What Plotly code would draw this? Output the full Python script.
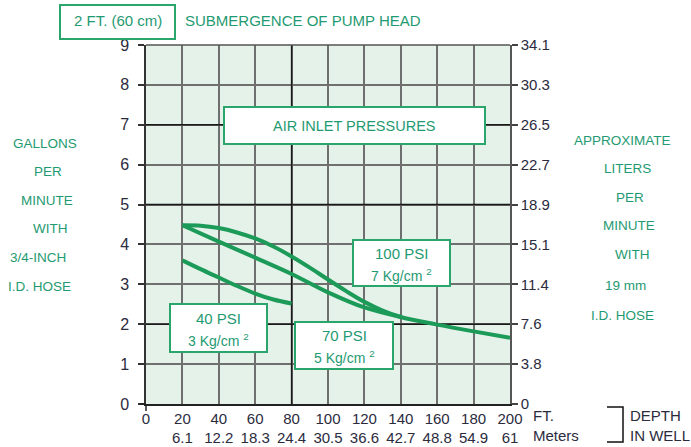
import plotly.graph_objects as go

# ---------------- data ----------------
depth_ft = [0, 20, 40, 60, 80, 100, 120, 140, 160, 180, 200]
depth_m = ["", "6.1", "12.2", "18.3", "24.4", "30.5", "36.6", "42.7", "48.8", "54.9", "61"]
gpm_ticks = [0, 1, 2, 3, 4, 5, 6, 7, 8, 9]
lpm_labels = ["0", "3.8", "7.6", "11.4", "15.1", "18.9", "22.7", "26.5", "30.3", "34.1"]

psi100_x = [20, 30, 40, 50, 60, 70, 80, 90, 100, 110, 120, 130, 140, 160, 180, 200]
psi100_y = [4.48, 4.47, 4.41, 4.30, 4.15, 3.95, 3.70, 3.42, 3.12, 2.83, 2.56, 2.34, 2.18, 1.99, 1.82, 1.66]

psi70_x = [20, 40, 60, 80, 100, 120, 140]
psi70_y = [4.48, 4.07, 3.67, 3.26, 2.80, 2.42, 2.18]

psi40_x = [20, 30, 40, 50, 60, 70, 80]
psi40_y = [3.60, 3.38, 3.17, 2.96, 2.77, 2.62, 2.52]

GREEN_LINE = "#1b9a58"
GREEN_TXT = "#1f9a72"
GREEN_BOX = "#2aa56c"
NUM = "#2b2b3e"
FONT = "Liberation Sans, Arial"

# plot area in pixels
W, H = 691, 447
L, R, T, B = 146, 510, 45, 404


def px(x):
    return (x - L) / (R - L)


def py(y):
    return (B - y) / (B - T)


fig = go.Figure()
for xs, ys in [(psi100_x, psi100_y), (psi70_x, psi70_y), (psi40_x, psi40_y)]:
    fig.add_trace(go.Scatter(x=xs, y=ys, mode="lines",
                             line=dict(color=GREEN_LINE, width=4, shape="spline", smoothing=1.0),
                             hoverinfo="skip", showlegend=False))
# invisible trace for right axis
fig.add_trace(go.Scatter(x=[0], y=[0], yaxis="y2", mode="markers",
                         marker=dict(opacity=0), showlegend=False, hoverinfo="skip"))

shapes = []
# darker grid lines
for xv in [80]:
    shapes.append(dict(type="line", xref="x", yref="y", x0=xv, x1=xv, y0=0, y1=9,
                       line=dict(color="#1a1a1a", width=1.5), layer="between"))
for yv in [2, 5, 7]:
    shapes.append(dict(type="line", xref="x", yref="y", x0=0, x1=200, y0=yv, y1=yv,
                       line=dict(color="#1a1a1a", width=1.5), layer="between"))


def box(x0, y0, x1, y1):
    shapes.append(dict(type="rect", xref="paper", yref="paper",
                       x0=px(x0), x1=px(x1), y0=py(y1), y1=py(y0),
                       line=dict(color=GREEN_BOX, width=2), fillcolor="white", layer="above"))


box(60, 5, 175, 39)
box(224, 107, 485, 144)
box(353, 240, 450, 286)
box(170, 304, 267, 352)
box(295, 322, 393, 369)

# bracket
shapes.append(dict(type="path", xref="paper", yref="paper",
                   path=f"M {px(607)} {py(407)} L {px(623)} {py(407)} L {px(623)} {py(442)} L {px(607)} {py(442)}",
                   line=dict(color="#111", width=1.5)))
# axis extension at bottom-left
shapes.append(dict(type="line", xref="paper", yref="paper", x0=px(140), x1=px(146), y0=py(404), y1=py(404),
                   line=dict(color="#222", width=1.5)))
shapes.append(dict(type="line", xref="paper", yref="paper", x0=px(146), x1=px(146), y0=py(404), y1=py(411),
                   line=dict(color="#222", width=1.5)))

ann = []


def text(x, y, s, size=16, color=GREEN_TXT, xanchor="center"):
    ann.append(dict(xref="paper", yref="paper", x=px(x), y=py(y), text=s, showarrow=False,
                    xanchor=xanchor, yanchor="middle", font=dict(family=FONT, size=size, color=color)))


text(118, 21, "2 FT. (60 cm)", 15)
text(183, 21, "SUBMERGENCE OF PUMP HEAD", 15, xanchor="left")
text(354, 126, "AIR INLET PRESSURES", 14.5)
text(401, 253, "100 PSI", 15)
text(401, 275, "7 Kg/cm <sup>2</sup>", 14)
text(218, 318, "40 PSI", 15)
text(218, 340, "3 Kg/cm <sup>2</sup>", 14)
text(344, 335, "70 PSI", 15)
text(344, 357, "5 Kg/cm <sup>2</sup>", 14)

for s, x, y in [("GALLONS", 45, 143), ("PER", 48, 171), ("MINUTE", 47, 200),
                ("WITH", 50, 228), ("3/4-INCH", 38, 257), ("I.D. HOSE", 40, 286)]:
    text(x, y, s, 13.5)
for s, x, y in [("APPROXIMATE", 622, 140), ("LITERS", 627, 168), ("PER", 630, 197),
                ("MINUTE", 629, 225), ("WITH", 632, 254), ("19 mm", 625, 285), ("I.D. HOSE", 622, 315)]:
    text(x, y, s, 13.5)

text(531, 415, "FT.", 15, NUM, "left")
text(531, 435, "Meters", 15, NUM, "left")
text(628, 415, "DEPTH", 15, NUM, "left")
text(628, 435, "IN WELL", 15, NUM, "left")

xtext = [f"{f}" if m == "" else f"{f}<br>{m}" for f, m in zip(depth_ft, depth_m)]

fig.update_layout(
    width=W, height=H,
    margin=dict(l=L, r=W - R, t=T, b=H - B, pad=0, autoexpand=False),
    paper_bgcolor="white", plot_bgcolor="#e4f2ea",
    font=dict(family=FONT, size=15, color=NUM),
    showlegend=False,
    xaxis=dict(range=[0, 200], tickvals=depth_ft, ticktext=xtext, showgrid=True, automargin=False,
               gridcolor="#6f6f6f", gridwidth=1.5, zeroline=False, showline=True,
               linecolor="#222", linewidth=1.5, mirror=False, ticks="", tickfont=dict(size=15, color=NUM)),
    yaxis=dict(range=[0, 9], tickvals=gpm_ticks, showgrid=True, gridcolor="#6f6f6f", gridwidth=1.5,
               zeroline=False, showline=True, linecolor="#333", linewidth=1.5, mirror=False, automargin=False,
               ticks="outside", ticklen=6, tickcolor="#333", tickwidth=1.5,
               tickfont=dict(size=16, color=NUM), ticklabelstandoff=6),
    yaxis2=dict(range=[0, 9], tickvals=gpm_ticks, ticktext=lpm_labels, overlaying="y", side="right",
                showgrid=False, zeroline=False, showline=True, linecolor="#555", linewidth=1.5, automargin=False,
                ticks="outside", ticklen=6, tickcolor="#444", tickwidth=1.5,
                tickfont=dict(size=15, color=NUM)),
    shapes=shapes, annotations=ann,
)
# top border
fig.add_shape(type="line", xref="paper", yref="paper", x0=0, x1=1, y0=1, y1=1,
              line=dict(color="#555", width=1.5))

fig.write_html("out.html", config={"displayModeBar": False},
               post_script="document.body.style.margin='0';document.body.style.padding='0';"
                           "document.body.style.overflow='hidden';")
